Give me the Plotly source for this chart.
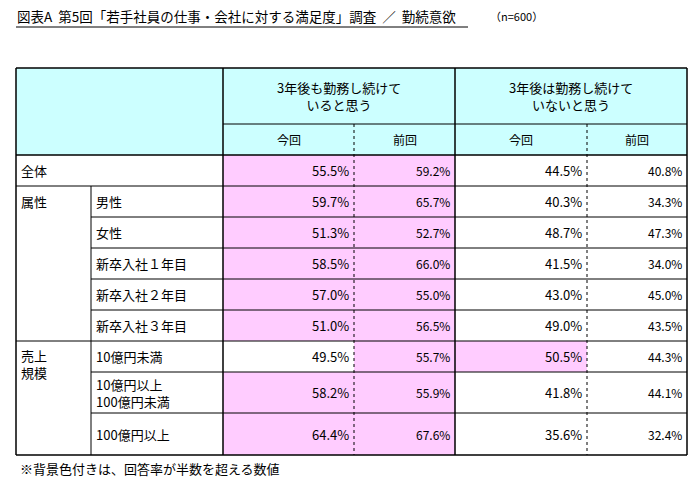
import plotly.graph_objects as go

title = "図表A  第5回「若手社員の仕事・会社に対する満足度」調査  ／  勤続意欲"
n_label = "（n=600）"
groups = ["", "属性", "属性", "属性", "属性", "属性", "売上<br>規模", "売上<br>規模", "売上<br>規模"]
rows = ["全体", "男性", "女性", "新卒入社１年目", "新卒入社２年目", "新卒入社３年目",
        "10億円未満", "10億円以上<br>100億円未満", "100億円以上"]
stay_now = [55.5, 59.7, 51.3, 58.5, 57.0, 51.0, 49.5, 58.2, 64.4]
stay_prev = [59.2, 65.7, 52.7, 66.0, 55.0, 56.5, 55.7, 55.9, 67.6]
leave_now = [44.5, 40.3, 48.7, 41.5, 43.0, 49.0, 50.5, 41.8, 35.6]
leave_prev = [40.8, 34.3, 47.3, 34.0, 45.0, 43.5, 44.3, 44.1, 32.4]
head1 = ["3年後も勤務し続けて<br>いると思う", "3年後は勤務し続けて<br>いないと思う"]
head2 = ["今回", "前回", "今回", "前回"]
note = "※背景色付きは、回答率が半数を超える数値"

W, H = 700, 487
OFF = 8  # page body margin
xs = [16, 91, 223, 354, 455, 587, 687]
ys = [68, 124, 155, 186, 217, 248, 279, 310, 341, 372, 413, 455]
FONT = "Noto Sans CJK JP"
CYAN, PINK = "#ccffff", "#ffccff"

shapes, ann = [], []
def rect(x0, y0, x1, y1, fill):
    shapes.append(dict(type="rect", x0=x0, x1=x1, y0=y0, y1=y1, fillcolor=fill, line=dict(width=0), layer="below"))
def line(x0, y0, x1, y1, dash="solid", w=1):
    shapes.append(dict(type="line", x0=x0, x1=x1, y0=y0, y1=y1, line=dict(color="black", width=w, dash=dash)))
def text(x, y, t, anchor="left", size=12, yanchor="middle"):
    ann.append(dict(x=x, y=y, text=t, showarrow=False, xanchor=anchor, yanchor=yanchor,
                    font=dict(family=FONT, size=size, color="black"), align="center" if anchor == "center" else "left"))

rect(xs[0], ys[0], xs[6], ys[2], CYAN)
cols = [stay_now, stay_prev, leave_now, leave_prev]
for i in range(len(rows)):
    y0, y1 = ys[2 + i], ys[3 + i]
    for j, c in enumerate(cols):
        fill = PINK if c[i] > 50 else "white"
        rect(xs[2 + j], y0, xs[3 + j], y1, fill)
        text(xs[3 + j] - 3, (y0 + y1) / 2, f"{c[i]:.1f}%", "right", 13 if j % 2 == 0 else 12)
    if i == 0:
        text(xs[0] + 3, (y0 + y1) / 2, rows[i], "left", 13)
    else:
        text(xs[1] + 3, (y0 + y1) / 2, rows[i], "left", 13)

# group labels
text(xs[0] + 3, (ys[3] + ys[4]) / 2, groups[1], "left", 13)
text(xs[0] + 3, ys[8] + 3, groups[6], "left", 13, yanchor="top")

# headers
for k in range(2):
    text((xs[2 + 2 * k] + xs[4 + 2 * k]) / 2, (ys[0] + ys[1]) / 2, head1[k], "center", 13)
for j in range(4):
    text((xs[2 + j] + xs[3 + j]) / 2, (ys[1] + ys[2]) / 2, head2[j], "center", 12)

# grid lines
line(xs[0], ys[0], xs[6], ys[0], w=1.5)
line(xs[0], ys[-1], xs[6], ys[-1], w=1.5)
line(xs[0], ys[0], xs[0], ys[-1], w=1.5)
line(xs[6], ys[0], xs[6], ys[-1], w=1.5)
line(xs[2], ys[1], xs[6], ys[1])
line(xs[0], ys[2], xs[6], ys[2], w=1.5)
for k in range(3, 11):
    x_start = xs[0] if k in (3, 8) else xs[1]
    line(x_start, ys[k], xs[6], ys[k])
line(xs[1], ys[3], xs[1], ys[-1])
line(xs[2], ys[0], xs[2], ys[-1], w=1.5)
line(xs[4], ys[0], xs[4], ys[-1], w=1.5)
line(xs[3], ys[1], xs[3], ys[-1], dash="dot")
line(xs[5], ys[1], xs[5], ys[-1], dash="dot")

# title & note
text(15, 16, title, "left", 13.5)
line(16, 27, 468, 27)
text(488, 16, n_label, "left", 11)
text(18, 468, note, "left", 13)

fig = go.Figure()
fig.update_layout(width=W, height=H, margin=dict(l=0, r=0, t=0, b=0), plot_bgcolor="white", paper_bgcolor="white",
                  xaxis=dict(range=[OFF, W + OFF], visible=False, fixedrange=True),
                  yaxis=dict(range=[H + OFF, OFF], visible=False, fixedrange=True),
                  shapes=shapes, annotations=ann, showlegend=False)
fig.write_html("out.html")
